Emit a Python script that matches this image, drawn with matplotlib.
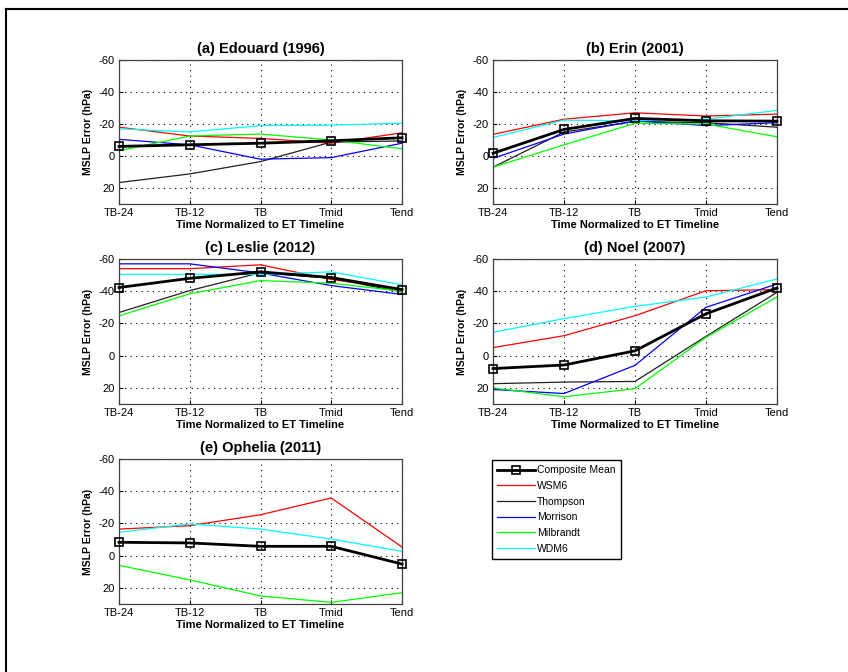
import numpy as np
import matplotlib
matplotlib.use("Agg")
import matplotlib.pyplot as plt
from matplotlib.lines import Line2D

plt.rcParams['font.family'] = ['Liberation Sans', 'DejaVu Sans']
plt.rcParams['axes.unicode_minus'] = False

times = ["TB-24", "TB-12", "TB", "Tmid", "Tend"]
models = ["WSM6", "Thompson", "Morrison", "Milbrandt", "WDM6"]
colors = ["#ff0000", "#202020", "#0000ff", "#00ff00", "#00ffff"]
titles = ["(a) Edouard (1996)", "(b) Erin (2001)", "(c) Leslie (2012)",
          "(d) Noel (2007)", "(e) Ophelia (2011)"]

# MSLP error (hPa) per storm: composite mean then one list per model
edouard_mean = [-6, -7, -8, -9.5, -11.4]
edouard = [[-18, -12.5, -11, -8, -14.5],
           [16.6, 11.2, 3.5, -8.7, -9.4],
           [-10.4, -7, 2, 1, -8],
           [-3.3, -12.5, -13.7, -10, -4.5],
           [-17, -15, -19, -19.3, -20.5]]

erin_mean = [-1.7, -16.6, -23.5, -22, -21.8]
erin = [[-13.5, -23, -27, -25, -26.2],
        [7, -15, -21.6, -20.8, -18],
        [1.5, -13.7, -22, -19, -20.8],
        [7, -7, -20.4, -20, -12],
        [-11.6, -22.4, -22, -23, -28.5]]

leslie_mean = [-42.3, -48, -52, -48.5, -41]
leslie = [[-54, -54, -56.4, -47.3, -41.5],
          [-26.8, -40.4, -51.5, -48, -39.5],
          [-57, -57, -51.3, -43.5, -38],
          [-24.7, -38.4, -46.6, -45, -40],
          [-50.5, -50.5, -50.5, -52, -44]]

noel_mean = [8, 5.8, -3, -26, -42]
noel = [[-5, -12.4, -24.8, -40.3, -41],
        [17.4, 16.4, 16, -12, -39.3],
        [21, 23.5, 6, -30, -44.5],
        [20, 25.5, 20.5, -11.4, -36.4],
        [-14.5, -23, -30.6, -36.4, -47.6]]

ophelia_mean = [-8.3, -7.9, -5.8, -5.8, 5.2]
ophelia = [[-16.5, -18.6, -25.4, -35.8, -5.4],
           None,
           None,
           [6, 15, 25, 29, 23],
           [-14.5, -19.7, -16.5, -10.3, -2.7]]

storm_means = [edouard_mean, erin_mean, leslie_mean, noel_mean, ophelia_mean]
storm_models = [edouard, erin, leslie, noel, ophelia]

W, H = 848, 672
fig = plt.figure(figsize=(W / 100, H / 100), dpi=100)

# axes boxes in pixels: left, right, top, bottom
boxes = [(119, 402, 60, 204), (493, 777, 60, 204),
         (119, 402, 259, 404), (493, 777, 259, 404),
         (119, 402, 459, 604)]

x = np.arange(len(times))
for i, (l, r, t, b) in enumerate(boxes):
    ax = fig.add_axes([l / W, 1 - b / H, (r - l) / W, (b - t) / H])
    for vals, c in zip(storm_models[i], colors):
        if vals is None:
            continue
        ax.plot(x, vals, color=c, lw=0.9)
    ax.plot(x, storm_means[i], color='k', lw=2, marker='s', markersize=6,
            markerfacecolor='none', markeredgecolor='k', markeredgewidth=1.2,
            clip_on=False, zorder=5)
    ax.set_xlim(0, 4)
    ax.set_ylim(30, -60)
    ax.set_yticks([-60, -40, -20, 0, 20])
    ax.set_xticks(x)
    ax.set_xticklabels(times)
    ax.tick_params(direction='in', length=3, labelsize=8, pad=3)
    ax.grid(True, linestyle=(0, (1, 4)), color='k', lw=0.8)
    for s in ax.spines.values():
        s.set_color('#404040')
        s.set_linewidth(0.9)
    ax.set_title(titles[i], fontsize=10.5, fontweight='bold', pad=5)
    ax.set_xlabel("Time Normalized to ET Timeline", fontsize=8,
                  fontweight='bold', labelpad=1)
    ax.set_ylabel("MSLP Error (hPa)", fontsize=7.5, fontweight='bold',
                  labelpad=4)

handles = [Line2D([], [], color='k', lw=2, marker='s', markersize=6,
                  markerfacecolor='none', markeredgewidth=1.2)]
handles += [Line2D([], [], color=c, lw=0.9) for c in colors]
labels = ["Composite Mean"] + models
fig.legend(handles, labels, loc='upper left',
           bbox_to_anchor=(492 / W, 1 - 460 / H), borderaxespad=0,
           fontsize=7.5, frameon=True, fancybox=False, edgecolor='k',
           framealpha=1, handlelength=3.6, handletextpad=0.2,
           labelspacing=0.55, borderpad=0.5)

# partial frame around the figure
fig.add_artist(Line2D([6 / W, 1], [1 - 9 / H, 1 - 9 / H], color='k', lw=1.5))
fig.add_artist(Line2D([6 / W, 6 / W], [0, 1 - 9 / H], color='k', lw=1.5))

fig.savefig("out.png", dpi=100)
